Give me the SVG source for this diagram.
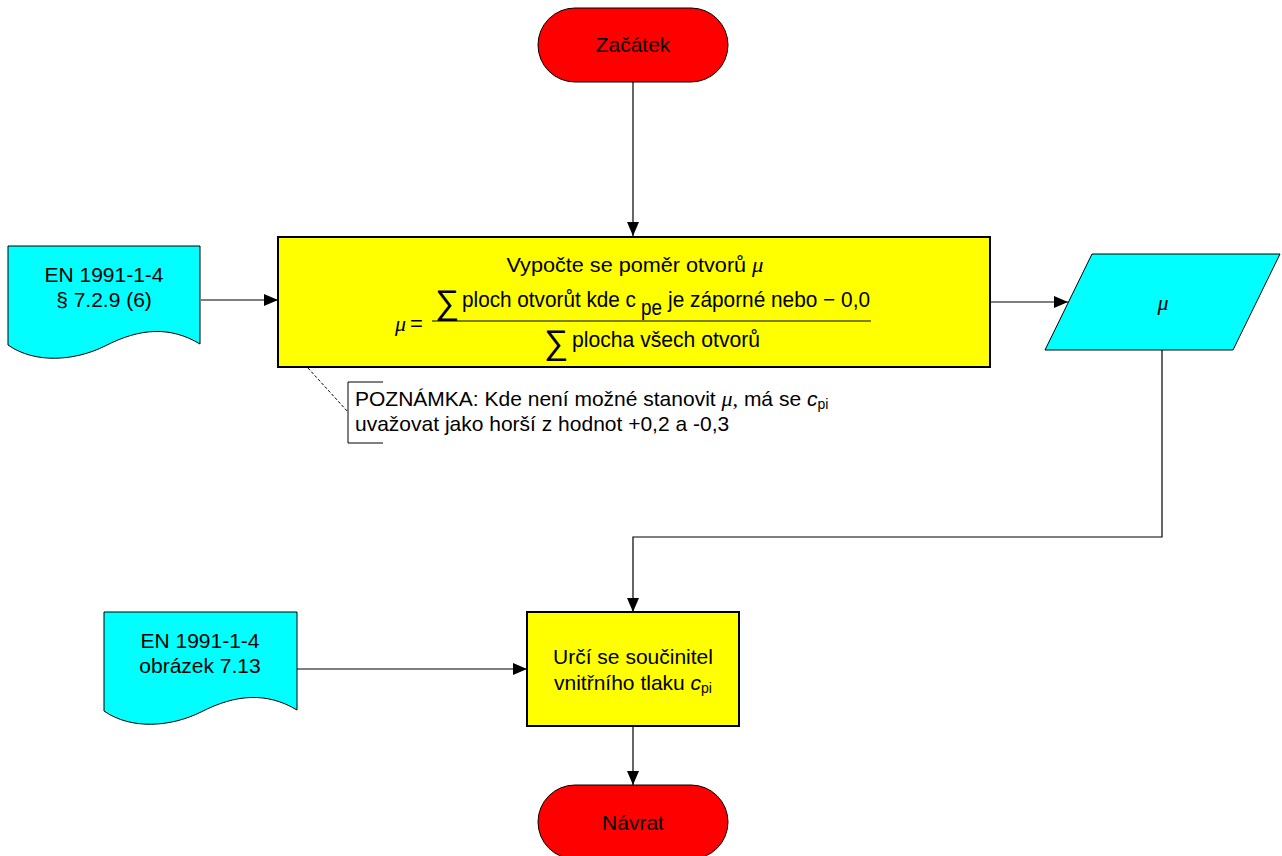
<svg xmlns="http://www.w3.org/2000/svg" width="1282" height="856" viewBox="0 0 1282 856">
<defs>
<style>
.t{font-family:"Liberation Sans",Arial,sans-serif;fill:#000}
.m{font-family:"Liberation Serif","Times New Roman",serif;font-style:italic;fill:#000}
.term{fill:#ff0000;stroke:#000;stroke-width:1}
.proc{fill:#ffff00;stroke:#000;stroke-width:2}
.doc{fill:#00ffff;stroke:#000;stroke-width:1}
.con{fill:none;stroke:#000;stroke-width:1.2}
</style>
<marker id="ah" markerWidth="14" markerHeight="12" refX="14" refY="6" orient="auto" markerUnits="userSpaceOnUse">
<path d="M0,0 L14,6 L0,12 Z" fill="#000"/>
</marker>
</defs>
<rect width="1282" height="856" fill="#fff"/>

<g id="connectors">
<line class="con" x1="633" y1="82" x2="633" y2="236" marker-end="url(#ah)"/>
<line class="con" x1="201" y1="300" x2="278" y2="300" marker-end="url(#ah)"/>
<line class="con" x1="990" y1="302" x2="1068" y2="302" marker-end="url(#ah)"/>
<polyline class="con" points="1162,350 1162,537 633,537 633,612" marker-end="url(#ah)"/>
<line class="con" x1="297" y1="669" x2="527" y2="669" marker-end="url(#ah)" stroke="#444"/>
<line class="con" x1="633" y1="726" x2="633" y2="785" marker-end="url(#ah)"/>
</g>

<g id="start">
<rect class="term" x="538" y="8" width="190" height="74" rx="37" ry="37"/>
<text class="t" x="633" y="52" font-size="21" text-anchor="middle">Začátek</text>
</g>

<g id="doc1">
<path class="doc" d="M8,246 H200 V344 C170,326 140,328 105,346 C75,361 35,364 8,345 Z"/>
<text class="t" x="104" y="282" font-size="21" text-anchor="middle">EN 1991-1-4</text>
<text class="t" x="104" y="307" font-size="21" text-anchor="middle">§ 7.2.9 (6)</text>
</g>

<g id="calc">
<rect class="proc" x="278" y="237" width="712" height="130"/>
<text class="t" x="635" y="272" font-size="21" text-anchor="middle" textLength="257" lengthAdjust="spacingAndGlyphs">Vypočte se poměr otvorů <tspan class="m" font-size="22">μ</tspan></text>
<text class="m" x="395" y="331" font-size="22">μ</text>
<text class="t" x="410" y="331" font-size="22">=</text>
<text class="t" x="435" y="314" font-size="34">∑</text>
<text class="t" font-size="22" lengthAdjust="spacingAndGlyphs"><tspan x="462" y="307" textLength="174" lengthAdjust="spacingAndGlyphs">ploch otvorůt kde c</tspan><tspan x="641" y="315" textLength="21" lengthAdjust="spacingAndGlyphs">pe</tspan><tspan x="668" y="307" textLength="202" lengthAdjust="spacingAndGlyphs">je záporné nebo − 0,0</tspan></text>
<line x1="432" y1="321" x2="871" y2="321" stroke="#000" stroke-width="1.2"/>
<text class="t" x="544" y="354" font-size="34">∑</text>
<text class="t" x="572" y="347" font-size="22" textLength="188" lengthAdjust="spacingAndGlyphs">plocha všech otvorů</text>
</g>

<g id="note">
<line x1="308" y1="368" x2="348" y2="412" stroke="#000" stroke-width="1" stroke-dasharray="3,2"/>
<polyline points="383,382 348,382 348,443 383,443" fill="none" stroke="#000" stroke-width="1"/>
<text class="t" x="355" y="406" font-size="21">POZNÁMKA: Kde není možné stanovit  <tspan class="m" font-size="22">μ,</tspan> má se <tspan font-style="italic">c</tspan><tspan font-size="14" dy="3">pi</tspan></text>
<text class="t" x="355" y="431" font-size="21">uvažovat jako horší z hodnot +0,2 a -0,3</text>
</g>

<g id="mu">
<polygon class="doc" points="1092,254 1280,254 1233,350 1045,350"/>
<text class="m" x="1163" y="310" font-size="22" text-anchor="middle">μ</text>
</g>

<g id="doc2">
<path class="doc" d="M104,612 H297 V710 C267,692 236,694 201,712 C171,727 131,730 104,711 Z"/>
<text class="t" x="200" y="648" font-size="21" text-anchor="middle">EN 1991-1-4</text>
<text class="t" x="200" y="673" font-size="21" text-anchor="middle">obrázek 7.13</text>
</g>

<g id="cpi">
<rect class="proc" x="527" y="612" width="212" height="114"/>
<text class="t" x="633" y="664" font-size="21" text-anchor="middle">Určí se součinitel</text>
<text class="t" x="633" y="690" font-size="21" text-anchor="middle">vnitřního tlaku <tspan font-style="italic">c</tspan><tspan font-size="14" dy="3">pi</tspan></text>
</g>

<g id="end">
<rect class="term" x="538" y="785" width="190" height="74" rx="37" ry="37"/>
<text class="t" x="633" y="830" font-size="21" text-anchor="middle">Návrat</text>
</g>
</svg>
